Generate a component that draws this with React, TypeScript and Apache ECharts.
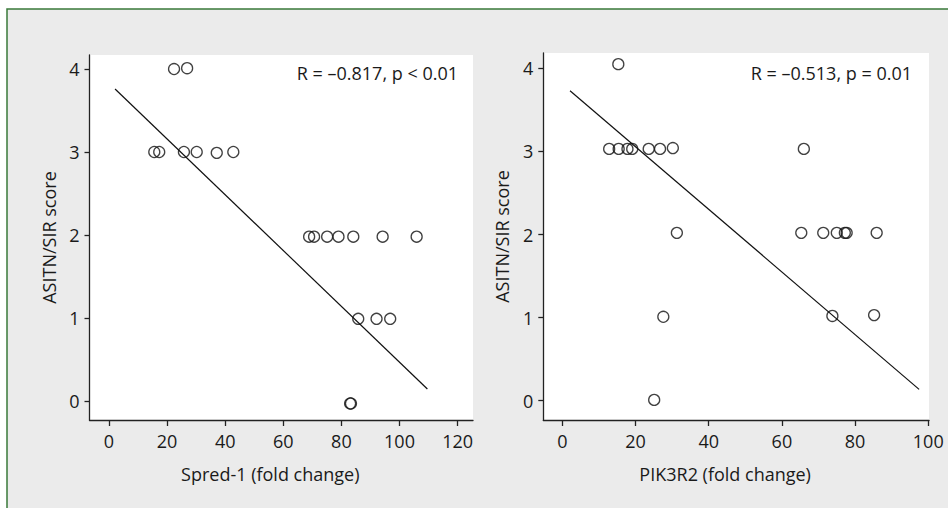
import React, { useEffect, useRef } from "react";
import * as echarts from "echarts";

// Left panel: Spred-1
const spredX = [22.4, 26.9, 15.6, 17.3, 25.8, 30.2, 37.1, 42.8, 68.9, 70.6, 75.1, 79.0, 84.1, 94.2, 105.9, 85.8, 92.1, 96.8, 83.0, 83.3];
const spredY = [4.0, 4.01, 3.0, 3.0, 3.0, 3.0, 2.99, 3.0, 1.98, 1.98, 1.98, 1.98, 1.98, 1.98, 1.98, 0.99, 0.99, 0.99, -0.03, -0.03];
const spredLineX = [2.1, 109.6];
const spredLineY = [3.76, 0.145];
const spredTicks = [0, 20, 40, 60, 80, 100, 120];
const spredNote = "R = \u20130.817, p < 0.01";

// Right panel: PIK3R2
const pikX = [15.3, 12.8, 15.4, 17.8, 19.1, 23.6, 26.7, 30.2, 66.0, 31.3, 65.3, 71.3, 75.0, 77.2, 77.7, 85.9, 27.6, 73.8, 85.2, 25.1];
const pikY = [4.05, 3.03, 3.03, 3.03, 3.03, 3.03, 3.03, 3.04, 3.03, 2.02, 2.02, 2.02, 2.02, 2.02, 2.02, 2.02, 1.01, 1.02, 1.03, 0.01];
const pikLineX = [2.1, 97.5];
const pikLineY = [3.73, 0.137];
const pikTicks = [0, 20, 40, 60, 80, 100];
const pikNote = "R = \u20130.513, p = 0.01";

const scoreTicks = [0, 1, 2, 3, 4];
const yName = "ASITN/SIR score";
const spredName = "Spred-1 (fold change)";
const pikName = "PIK3R2 (fold change)";

const FONT = "'Open Sans', 'Noto Sans', sans-serif";
const TXT = "#1a1a1a";
const AX = "#222";

function xAxisCfg(gridIndex: number, min: number, max: number, ticks: number[], name: string) {
  return {
    type: "value",
    gridIndex,
    min,
    max,
    name,
    nameLocation: "middle",
    nameGap: 45,
    nameTextStyle: { fontFamily: FONT, fontSize: 18, color: TXT, padding: [0, 22, 0, 0] },
    splitLine: { show: false },
    axisLine: { show: true, onZero: false, lineStyle: { color: AX, width: 1.3 } },
    axisTick: { show: true, length: 6, customValues: ticks, lineStyle: { color: AX, width: 1.3 } },
    axisLabel: { customValues: ticks, margin: 12, fontFamily: FONT, fontSize: 18, color: TXT },
  };
}

function yAxisCfg(gridIndex: number, min: number, max: number) {
  return {
    type: "value",
    gridIndex,
    min,
    max,
    name: yName,
    nameLocation: "middle",
    nameGap: 32,
    nameTextStyle: { fontFamily: FONT, fontSize: 18, color: TXT },
    splitLine: { show: false },
    axisLine: { show: true, onZero: false, lineStyle: { color: AX, width: 1.3 } },
    axisTick: { show: true, length: 5, customValues: scoreTicks, lineStyle: { color: AX, width: 1.3 } },
    axisLabel: { customValues: scoreTicks, margin: 10, fontFamily: FONT, fontSize: 18, color: TXT },
  };
}

function pts(xs: number[], ys: number[]) {
  return xs.map((x, i) => [x, ys[i]]);
}

export default function App() {
  const ref = useRef<HTMLDivElement>(null);
  useEffect(() => {
    if (!ref.current) return;
    const chart = echarts.init(ref.current, null, { renderer: "svg" });
    const scatterStyle = {
      color: "rgba(0,0,0,0)",
      borderColor: "#111",
      borderWidth: 1.3,
    };
    chart.setOption({
      animation: false,
      backgroundColor: "#ffffff",
      grid: [
        { left: 89.5, top: 55, width: 383.5, height: 365, show: true, backgroundColor: "#ffffff", borderWidth: 0 },
        { left: 543.3, top: 53, width: 385.7, height: 367, show: true, backgroundColor: "#ffffff", borderWidth: 0 },
      ],
      xAxis: [
        xAxisCfg(0, -6.7, 125.3, spredTicks, spredName),
        xAxisCfg(1, -5.2, 100.2, pikTicks, pikName),
      ],
      yAxis: [yAxisCfg(0, -0.229, 4.169), yAxisCfg(1, -0.232, 4.184)],
      graphic: [
        {
          type: "rect",
          z: -10,
          silent: true,
          shape: { x: 7, y: 9, width: 1000, height: 600 },
          style: { fill: "#ebebeb", stroke: "#3a7a3a", lineWidth: 1.5 },
        },
        {
          type: "text",
          x: 458,
          y: 73,
          style: { text: spredNote, align: "right", verticalAlign: "middle", font: `18px ${FONT}`, fill: TXT },
        },
        {
          type: "text",
          x: 912,
          y: 73,
          style: { text: pikNote, align: "right", verticalAlign: "middle", font: `18px ${FONT}`, fill: TXT },
        },
      ],
      series: [
        {
          type: "scatter",
          xAxisIndex: 0,
          yAxisIndex: 0,
          symbol: "circle",
          symbolSize: 11,
          itemStyle: scatterStyle,
          data: pts(spredX, spredY),
        },
        {
          type: "line",
          xAxisIndex: 0,
          yAxisIndex: 0,
          symbol: "none",
          lineStyle: { color: "#111", width: 1.2 },
          data: pts(spredLineX, spredLineY),
        },
        {
          type: "scatter",
          xAxisIndex: 1,
          yAxisIndex: 1,
          symbol: "circle",
          symbolSize: 11,
          itemStyle: scatterStyle,
          data: pts(pikX, pikY),
        },
        {
          type: "line",
          xAxisIndex: 1,
          yAxisIndex: 1,
          symbol: "none",
          lineStyle: { color: "#111", width: 1.2 },
          data: pts(pikLineX, pikLineY),
        },
      ],
    });
    return () => chart.dispose();
  }, []);
  return (
    <div style={{ position: "fixed", left: 0, top: 0, width: 948, height: 508, background: "#fff" }}>
      <div ref={ref} style={{ width: 948, height: 508 }} />
    </div>
  );
}
